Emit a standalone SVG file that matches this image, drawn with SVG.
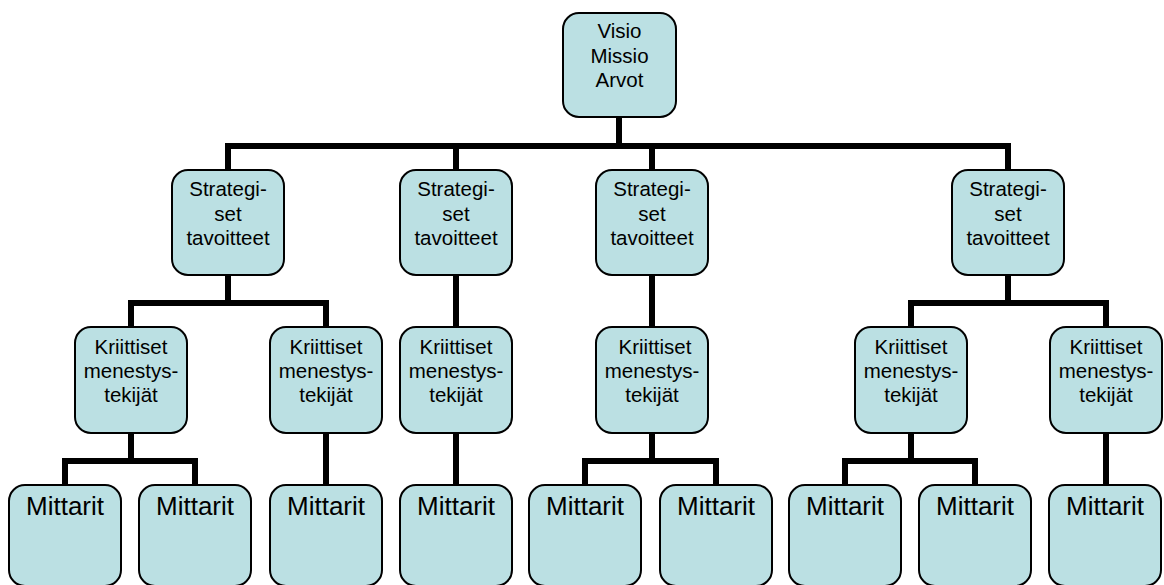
<svg xmlns="http://www.w3.org/2000/svg" width="1164" height="585" viewBox="0 0 1164 585">
<style>
.box{fill:#bbe0e3;stroke:#000;stroke-width:2}
.t{font-family:"Liberation Sans",Arial,sans-serif;font-size:20.5px;fill:#000;text-anchor:middle}
.m{font-family:"Liberation Sans",Arial,sans-serif;font-size:26px;fill:#000;text-anchor:middle}
.c{fill:none;stroke:#000;stroke-width:6;stroke-linejoin:miter}
</style>
<rect width="1164" height="585" fill="#fff"/>
<g id="connectors" class="c">
<path d="M619,117 V146 H228 V170"/>
<path d="M619,117 V149"/>
<path d="M619,146 H456 V170"/>
<path d="M619,146 H652 V170"/>
<path d="M619,146 H1008 V170"/>
<path d="M228,275 V303 H131 V327"/>
<path d="M228,303 H326 V327"/>
<path d="M456,275 V327"/>
<path d="M652,275 V327"/>
<path d="M1008,275 V303 H911 V327"/>
<path d="M1008,303 H1106 V327"/>
<path d="M131,433 V461 H65 V485"/>
<path d="M131,461 H195 V485"/>
<path d="M326,433 V485"/>
<path d="M456,433 V485"/>
<path d="M652,433 V461 H585 V485"/>
<path d="M652,461 H716 V485"/>
<path d="M911,433 V461 H845 V485"/>
<path d="M911,461 H975 V485"/>
<path d="M1106,433 V485"/>
</g>
<g id="top">
<rect class="box" x="563" y="13" width="113" height="104" rx="16"/>
<text class="t" x="619.5" y="38">Visio</text>
<text class="t" x="619.5" y="62.5">Missio</text>
<text class="t" x="619.5" y="87">Arvot</text>
</g>
<g id="s1">
<rect class="box" x="172" y="170" width="112" height="105" rx="16"/>
<text class="t" x="228" y="196">Strategi-</text>
<text class="t" x="228" y="220.5">set</text>
<text class="t" x="228" y="245">tavoitteet</text>
</g>
<g id="s2">
<rect class="box" x="400" y="170" width="112" height="105" rx="16"/>
<text class="t" x="456" y="196">Strategi-</text>
<text class="t" x="456" y="220.5">set</text>
<text class="t" x="456" y="245">tavoitteet</text>
</g>
<g id="s3">
<rect class="box" x="596" y="170" width="112" height="105" rx="16"/>
<text class="t" x="652" y="196">Strategi-</text>
<text class="t" x="652" y="220.5">set</text>
<text class="t" x="652" y="245">tavoitteet</text>
</g>
<g id="s4">
<rect class="box" x="952" y="170" width="112" height="105" rx="16"/>
<text class="t" x="1008" y="196">Strategi-</text>
<text class="t" x="1008" y="220.5">set</text>
<text class="t" x="1008" y="245">tavoitteet</text>
</g>
<g id="k1">
<rect class="box" x="75" y="327" width="112" height="106" rx="16"/>
<text class="t" x="131" y="353.5">Kriittiset</text>
<text class="t" x="131" y="378">menestys-</text>
<text class="t" x="131" y="402">tekijät</text>
</g>
<g id="k2">
<rect class="box" x="270" y="327" width="112" height="106" rx="16"/>
<text class="t" x="326" y="353.5">Kriittiset</text>
<text class="t" x="326" y="378">menestys-</text>
<text class="t" x="326" y="402">tekijät</text>
</g>
<g id="k3">
<rect class="box" x="400" y="327" width="112" height="106" rx="16"/>
<text class="t" x="456" y="353.5">Kriittiset</text>
<text class="t" x="456" y="378">menestys-</text>
<text class="t" x="456" y="402">tekijät</text>
</g>
<g id="k4">
<rect class="box" x="596" y="327" width="112" height="106" rx="16"/>
<text class="t" x="655" y="353.5">Kriittiset</text>
<text class="t" x="652" y="378">menestys-</text>
<text class="t" x="652" y="402">tekijät</text>
</g>
<g id="k5">
<rect class="box" x="855" y="327" width="112" height="106" rx="16"/>
<text class="t" x="911" y="353.5">Kriittiset</text>
<text class="t" x="911" y="378">menestys-</text>
<text class="t" x="911" y="402">tekijät</text>
</g>
<g id="k6">
<rect class="box" x="1050" y="327" width="112" height="106" rx="16"/>
<text class="t" x="1106" y="353.5">Kriittiset</text>
<text class="t" x="1106" y="378">menestys-</text>
<text class="t" x="1106" y="402">tekijät</text>
</g>
<g id="m1"><rect class="box" x="9" y="485" width="112" height="101" rx="16"/><text class="m" x="65" y="515">Mittarit</text></g>
<g id="m2"><rect class="box" x="139" y="485" width="112" height="101" rx="16"/><text class="m" x="195" y="515">Mittarit</text></g>
<g id="m3"><rect class="box" x="270" y="485" width="112" height="101" rx="16"/><text class="m" x="326" y="515">Mittarit</text></g>
<g id="m4"><rect class="box" x="400" y="485" width="112" height="101" rx="16"/><text class="m" x="456" y="515">Mittarit</text></g>
<g id="m5"><rect class="box" x="529" y="485" width="112" height="101" rx="16"/><text class="m" x="585" y="515">Mittarit</text></g>
<g id="m6"><rect class="box" x="660" y="485" width="112" height="101" rx="16"/><text class="m" x="716" y="515">Mittarit</text></g>
<g id="m7"><rect class="box" x="789" y="485" width="112" height="101" rx="16"/><text class="m" x="845" y="515">Mittarit</text></g>
<g id="m8"><rect class="box" x="919" y="485" width="112" height="101" rx="16"/><text class="m" x="975" y="515">Mittarit</text></g>
<g id="m9"><rect class="box" x="1049" y="485" width="112" height="101" rx="16"/><text class="m" x="1105" y="515">Mittarit</text></g>
</svg>
